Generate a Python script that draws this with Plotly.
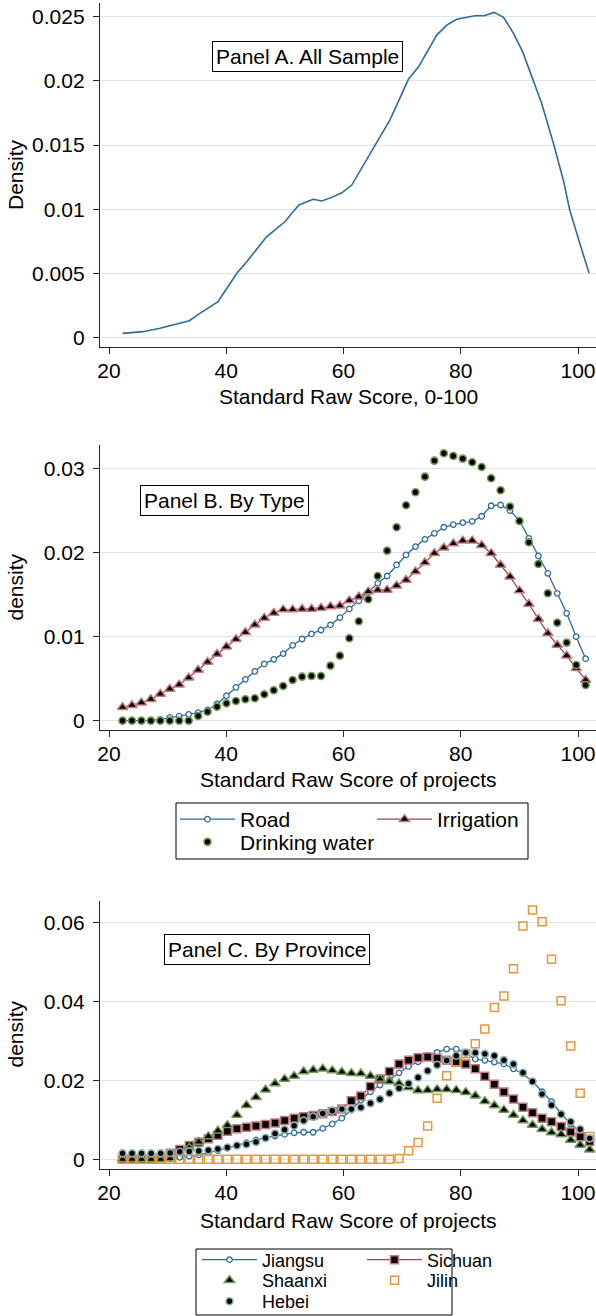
import plotly.graph_objects as go

# ---------------- data ----------------
# Panel A: kernel density, all sample
a_score = [22.3, 24.1, 25.8, 28.7, 31.0, 33.7, 35.5, 36.9, 38.6, 40.1, 41.8, 43.5, 45.2, 46.8, 48.3,
           50.0, 51.4, 52.4, 54.8, 56.3, 58.0, 59.7, 61.4, 63.9, 66.2, 67.9, 69.6, 71.1, 72.8, 74.5,
           75.9, 77.6, 79.3, 82.4, 84.0, 85.7, 87.3, 89.0, 90.55, 93.8, 95.8, 97.5, 98.6, 100.3, 101.9]
a_density = [0.00034, 0.00039, 0.00047, 0.00073, 0.00099, 0.00132, 0.0019, 0.00229, 0.0028, 0.00385,
             0.00502, 0.00592, 0.00688, 0.00782, 0.00839, 0.00903, 0.00981, 0.01034, 0.01078, 0.01065,
             0.01093, 0.01129, 0.01189, 0.01384, 0.01553, 0.01695, 0.01864, 0.02015, 0.0211, 0.0224,
             0.02357, 0.02435, 0.0248, 0.02508, 0.02508, 0.02534, 0.02495, 0.0237, 0.02228, 0.01826,
             0.01514, 0.01227, 0.00993, 0.00735, 0.00501]

# Panel B: by type (density values in thousandths)
b_score = [22.30, 23.91, 25.52, 27.14, 28.75, 30.36, 31.97, 33.59, 35.20, 36.81,
           38.42, 40.03, 41.65, 43.26, 44.87, 46.48, 48.10, 49.71, 51.32, 52.93,
           54.54, 56.16, 57.77, 59.38, 60.99, 62.61, 64.22, 65.83, 67.44, 69.05,
           70.67, 72.28, 73.89, 75.50, 77.11, 78.73, 80.34, 81.95, 83.56, 85.18,
           86.79, 88.40, 90.01, 91.62, 93.24, 94.85, 96.46, 98.07, 99.69, 101.30]
road = [0, 0, 0, 0.04, 0.16, 0.40, 0.55, 0.75, 0.95, 1.27,
        1.98, 2.97, 3.96, 4.91, 5.87, 6.74, 7.29, 7.97, 8.96, 9.71,
        10.31, 10.78, 11.38, 12.25, 13.28, 14.23, 15.26, 16.33, 17.20, 18.51,
        19.70, 20.69, 21.56, 22.27, 22.99, 23.31, 23.54, 23.70, 24.30, 25.55,
        25.64, 24.97, 23.78, 21.68, 19.58, 17.52, 15.14, 12.76, 9.99, 7.37]
irrigation = [1.59, 1.82, 2.14, 2.54, 3.17, 3.76, 4.28, 5.11, 6.02, 6.98,
              7.93, 8.80, 9.67, 10.5, 11.4, 12.2, 12.8, 13.2, 13.2, 13.28,
              13.28, 13.40, 13.56, 13.67, 14.27, 14.74, 15.34, 15.54, 15.54, 16.05,
              16.73, 17.72, 18.79, 19.90, 20.55, 21.05, 21.40, 21.40, 20.85, 19.90,
              18.51, 17.12, 15.46, 13.87, 12.09, 10.38, 9.0, 7.73, 6.22, 4.84]
drinking = [0, 0, 0, 0, 0, 0, 0, 0, 0.55, 1.07,
            1.66, 2.06, 2.34, 2.54, 2.66, 3.13, 3.61, 4.12, 4.84, 5.23,
            5.31, 5.31, 6.54, 7.73, 9.79, 11.81, 14.43, 17.20, 20.21, 22.99,
            25.60, 27.15, 29.01, 30.91, 31.79, 31.47, 31.15, 30.72, 30.16, 28.81,
            27.39, 25.45, 23.74, 21.20, 18.63, 15.14, 11.65, 9.28, 6.62, 4.24]

# Panel C: by province (density values in thousandths)
c_score = [22.30, 23.93, 25.55, 27.18, 28.81, 30.43, 32.06, 33.69, 35.31, 36.94,
           38.57, 40.19, 41.82, 43.44, 45.07, 46.70, 48.32, 49.95, 51.58, 53.20,
           54.83, 56.46, 58.08, 59.71, 61.34, 62.96, 64.59, 66.22, 67.84, 69.47,
           71.10, 72.72, 74.35, 75.97, 77.60, 79.23, 80.85, 82.48, 84.11, 85.73,
           87.36, 88.99, 90.61, 92.24, 93.87, 95.49, 97.12, 98.75, 100.37, 102.00]
jiangsu = [0.1, 0.1, 0.1, 0.1, 0.1, 0.2, 0.5, 0.8, 1.1, 1.6,
           2.2, 2.8, 3.5, 4.2, 4.9, 5.5, 5.9, 6.3, 6.7, 6.84,
           6.84, 7.85, 8.94, 10.4, 12.5, 15.0, 17.1, 18.8, 20.1, 21.9,
           23.5, 24.7, 26.2, 27.05, 27.9, 27.9, 26.8, 25.35, 25.05, 24.6,
           24.15, 22.9, 21.6, 19.7, 17.1, 14.6, 11.6, 8.9, 7.0, 5.3]
sichuan = [0, 0, 0, 0.1, 0.4, 1.5, 2.5, 3.5, 4.3, 5.2,
           6.1, 7.1, 7.7, 8.1, 8.4, 8.8, 9.2, 9.8, 10.4, 10.8,
           11.1, 11.5, 12.1, 12.7, 14.8, 16.0, 18.4, 20.3, 22.2, 24.1,
           25.1, 25.7, 25.9, 25.6, 25.05, 24.55, 24.1, 22.9, 21.0, 19.0,
           17.05, 15.25, 13.2, 11.8, 10.4, 9.5, 8.3, 6.9, 5.7, 4.5]
shaanxi = [0, 0, 0, 0, 0, 0.2, 1.5, 2.9, 4.4, 5.8,
           7.2, 8.6, 11.2, 13.7, 15.7, 17.6, 19.2, 20.3, 21.1, 22.2,
           22.6, 22.9, 22.5, 22.1, 21.8, 21.7, 21.1, 20.3, 19.7, 19.2,
           18.2, 17.4, 17.5, 17.7, 17.7, 17.5, 17.0, 16.1, 14.7, 13.6,
           12.5, 11.2, 9.8, 8.7, 7.6, 6.8, 6.3, 4.9, 3.6, 2.4]
jilin = [0, 0, 0, 0, 0, 0, 0, 0, 0, 0,
         0, 0, 0, 0, 0, 0, 0, 0, 0, 0,
         0, 0, 0, 0, 0, 0, 0, 0, 0, 0.2,
         2.19, 4.22, 8.44, 15.44, 21.15, 24.7, 26.7, 29.25, 33.0, 38.4,
         41.35, 48.27, 59.07, 63.12, 60.17, 50.63, 40.17, 28.69, 16.71, 5.74]
hebei = [1.5, 1.5, 1.5, 1.5, 1.5, 1.6, 1.9, 2.0, 2.1, 2.3,
         2.6, 3.0, 3.5, 3.8, 4.4, 5.4, 6.5, 7.5, 8.5, 9.8,
         10.8, 11.6, 12.3, 12.7, 12.7, 13.1, 14.2, 15.2, 16.7, 18.0,
         19.2, 20.7, 22.4, 23.9, 25.0, 26.2, 27.0, 27.0, 26.7, 26.2,
         25.1, 24.1, 21.9, 19.7, 16.5, 13.7, 11.4, 9.5, 7.6, 5.3]

x_ticks = [20, 40, 60, 80, 100]
a_yticks = [0, 0.005, 0.01, 0.015, 0.02, 0.025]
a_ylabels = ["0", "0.005", "0.01", "0.015", "0.02", "0.025"]
b_yticks = [0, 0.01, 0.02, 0.03]
b_ylabels = ["0", "0.01", "0.02", "0.03"]
c_yticks = [0, 0.02, 0.04, 0.06]
c_ylabels = ["0", "0.02", "0.04", "0.06"]


def milli(vals):
    return [v / 1000 for v in vals]


# ---------------- styling ----------------
W, H = 596, 1316
ML = 100
PW = W - ML
FONT = "Liberation Sans, Arial, sans-serif"
BLUE = "#2f6b9a"
MAROON = "#a3464d"
PINK = "#c47a7e"
GREEN = "#6e9a55"
TEAL = "#8ab2b2"
ORANGE = "#e8963a"
GRID = "#dde5ec"
AXIS = "#262626"


def px(x):
    return (x - ML) / PW


def py(y):
    return 1 - y / H


fig = go.Figure()

# Panel A
fig.add_trace(go.Scatter(x=a_score, y=a_density, mode="lines", line=dict(color=BLUE, width=1.6),
                         showlegend=False, xaxis="x", yaxis="y"))

# Panel B
fig.add_trace(go.Scatter(x=b_score, y=milli(road), mode="lines+markers", name="Road",
                         line=dict(color=BLUE, width=1.3),
                         marker=dict(symbol="circle", size=5.5, color="white", line=dict(color=BLUE, width=1.3)),
                         xaxis="x2", yaxis="y2", legend="legend"))
fig.add_trace(go.Scatter(x=b_score, y=milli(irrigation), mode="lines+markers", name="Irrigation",
                         line=dict(color=MAROON, width=1.3),
                         marker=dict(symbol="triangle-up", size=9, color="black", line=dict(color=PINK, width=1.5)),
                         xaxis="x2", yaxis="y2", legend="legend"))
fig.add_trace(go.Scatter(x=b_score, y=milli(drinking), mode="markers", name="Drinking water",
                         marker=dict(symbol="circle", size=7, color="black", line=dict(color=GREEN, width=1.6)),
                         xaxis="x2", yaxis="y2", legend="legend2"))

# Panel C
fig.add_trace(go.Scatter(x=c_score, y=milli(jiangsu), mode="lines+markers", name="Jiangsu",
                         line=dict(color=BLUE, width=1.3),
                         marker=dict(symbol="circle", size=5.5, color="white", line=dict(color=BLUE, width=1.3)),
                         xaxis="x3", yaxis="y3", legend="legend3"))
fig.add_trace(go.Scatter(x=c_score, y=milli(sichuan), mode="lines+markers", name="Sichuan",
                         line=dict(color=MAROON, width=1.3),
                         marker=dict(symbol="square", size=8, color="black", line=dict(color=PINK, width=1.5)),
                         xaxis="x3", yaxis="y3", legend="legend3"))
fig.add_trace(go.Scatter(x=c_score, y=milli(shaanxi), mode="markers", name="Shaanxi",
                         marker=dict(symbol="triangle-up", size=9, color="black", line=dict(color=GREEN, width=1.5)),
                         xaxis="x3", yaxis="y3", legend="legend4"))
fig.add_trace(go.Scatter(x=c_score, y=milli(jilin), mode="markers", name="Jilin",
                         marker=dict(symbol="square-open", size=8, color=ORANGE, line=dict(color=ORANGE, width=1.5)),
                         xaxis="x3", yaxis="y3", legend="legend4"))
fig.add_trace(go.Scatter(x=c_score, y=milli(hebei), mode="markers", name="Hebei",
                         marker=dict(symbol="circle", size=7, color="black", line=dict(color=TEAL, width=1.6)),
                         xaxis="x3", yaxis="y3", legend="legend5"))

xr = [18.46, 103.07]


def xaxis(anchor):
    return dict(domain=[0, 1], anchor=anchor, range=xr, tickvals=x_ticks, ticktext=[str(t) for t in x_ticks],
                showgrid=False, zeroline=False, showline=True, linecolor=AXIS, linewidth=1.3,
                ticks="outside", ticklen=6, tickwidth=1.3, tickcolor=AXIS,
                tickfont=dict(family=FONT, size=21, color="black"), ticklabelstandoff=-1)


def yaxis(anchor, dom, rng, tv, tt):
    return dict(domain=dom, anchor=anchor, range=rng, tickvals=tv, ticktext=tt,
                showgrid=True, gridcolor=GRID, gridwidth=1.3, zeroline=False,
                showline=True, linecolor=AXIS, linewidth=1.3,
                ticks="outside", ticklen=6, tickwidth=1.3, tickcolor=AXIS,
                tickfont=dict(family=FONT, size=21, color="black"), ticklabelstandoff=4)


def legend_cfg(xpx, ypx, size, entry):
    d = dict(orientation="h", x=px(xpx), y=py(ypx), xanchor="left", yanchor="top",
             bgcolor="rgba(0,0,0,0)", borderwidth=0, itemwidth=55,
             font=dict(family=FONT, size=size, color="black"), traceorder="normal")
    if entry:
        d["entrywidth"] = entry
        d["entrywidthmode"] = "pixels"
    return d


annotations = []


def box_label(text, cx, cy):
    annotations.append(dict(text=text, x=px(cx), y=py(cy), xref="paper", yref="paper",
                            xanchor="center", yanchor="middle", showarrow=False,
                            font=dict(family=FONT, size=21, color="black"),
                            bgcolor="white", bordercolor="black", borderwidth=1, borderpad=3))


def plain_label(text, cx, cy, angle=0):
    annotations.append(dict(text=text, x=px(cx), y=py(cy), xref="paper", yref="paper",
                            xanchor="center", yanchor="middle", showarrow=False, textangle=angle,
                            font=dict(family=FONT, size=21, color="black")))


box_label("Panel A. All Sample", 307.5, 57)
box_label("Panel B. By Type", 224.5, 500)
box_label("Panel C. By Province", 266.5, 949)

plain_label("Density", 15, 175, -90)
plain_label("density", 15, 587.5, -90)
plain_label("density", 15, 1034.5, -90)
plain_label("Standard Raw Score, 0-100", 348, 396)
plain_label("Standard Raw Score of projects", 348, 779)
plain_label("Standard Raw Score of projects", 348, 1220)

shapes = [
    dict(type="rect", xref="paper", yref="paper", x0=px(176), x1=px(528), y0=py(803), y1=py(859),
         line=dict(color="black", width=1), fillcolor="rgba(0,0,0,0)"),
    dict(type="rect", xref="paper", yref="paper", x0=px(196), x1=px(452), y0=py(1249), y1=py(1315),
         line=dict(color="black", width=1), fillcolor="rgba(0,0,0,0)"),
]

fig.update_layout(
    width=W, height=H,
    margin=dict(l=ML, r=0, t=0, b=0, autoexpand=False),
    paper_bgcolor="white", plot_bgcolor="white",
    font=dict(family=FONT, size=21, color="black"),
    xaxis=xaxis("y"),
    yaxis=yaxis("x", [py(347), py(3)], [-0.000724, 0.02607], a_yticks, a_ylabels),
    xaxis2=xaxis("y2"),
    yaxis2=yaxis("x2", [py(730), py(445)], [-0.00111, 0.03277], b_yticks, b_ylabels),
    xaxis3=xaxis("y3"),
    yaxis3=yaxis("x3", [py(1169), py(900.7)], [-0.00246, 0.06547], c_yticks, c_ylabels),
    legend=legend_cfg(175, 799, 21, 127),
    legend2=legend_cfg(175, 821.7, 21, None),
    legend3=legend_cfg(197, 1241.5, 18, 95),
    legend4=legend_cfg(197, 1262.1, 18, 95),
    legend5=legend_cfg(197, 1283.1, 18, None),
    annotations=annotations,
    shapes=shapes,
)

fig.write_html("out.html", config={"displayModeBar": False})

# remove the browser's default page margin so the figure sits at the window origin
with open("out.html", "r", encoding="utf-8") as f:
    html = f.read()
html = html.replace("<head>", "<head><style>html,body{margin:0;padding:0;overflow:hidden;}</style>", 1)
with open("out.html", "w", encoding="utf-8") as f:
    f.write(html)
